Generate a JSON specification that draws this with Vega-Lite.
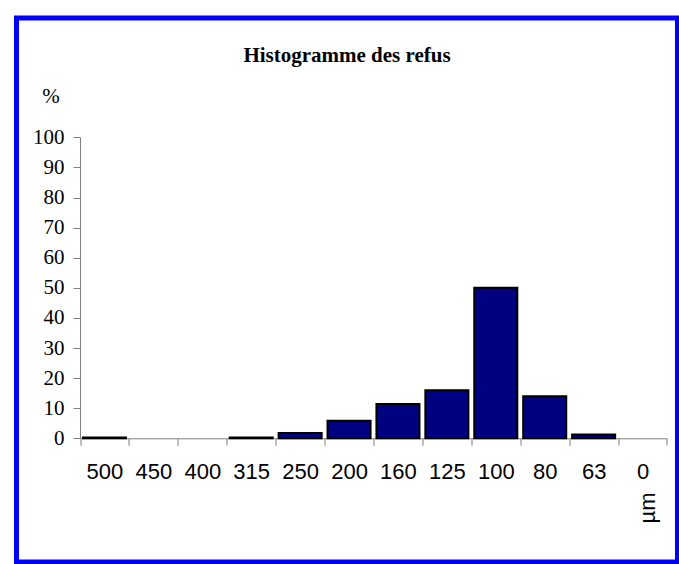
{
  "$schema": "https://vega.github.io/schema/vega-lite/v6.json",
  "width": 661,
  "height": 544,
  "autosize": {"type": "none"},
  "padding": {"left": 16.5, "top": 18, "right": 1.5, "bottom": 2},
  "background": "white",
  "title": {
    "text": "Histogramme des refus",
    "font": "Liberation Serif",
    "fontSize": 21,
    "fontWeight": "bold",
    "color": "black",
    "anchor": "middle",
    "frame": "group",
    "offset": -64.5,
    "baseline": "alphabetic"
  },
  "data": {
    "values": [
      {"taille": "500", "refus": 0.3},
      {"taille": "450", "refus": 0},
      {"taille": "400", "refus": 0},
      {"taille": "315", "refus": 0.3},
      {"taille": "250", "refus": 1.8},
      {"taille": "200", "refus": 5.8},
      {"taille": "160", "refus": 11.4},
      {"taille": "125", "refus": 16.0},
      {"taille": "100", "refus": 50.0},
      {"taille": "80", "refus": 14.0},
      {"taille": "63", "refus": 1.3},
      {"taille": "0", "refus": 0}
    ]
  },
  "transform": [{"filter": "datum.refus > 0"}],
  "mark": {
    "type": "bar",
    "fill": "#000080",
    "stroke": "black",
    "strokeWidth": 2,
    "width": {"band": 0.88}
  },
  "encoding": {
    "x": {
      "field": "taille",
      "type": "ordinal",
      "sort": null,
      "scale": {
        "domain": ["500", "450", "400", "315", "250", "200", "160", "125", "100", "80", "63", "0"],
        "range": [63.5, 650.5],
        "paddingInner": 0,
        "paddingOuter": 0
      },
      "axis": {
        "title": "µm",
        "titleAngle": 270,
        "titleX": 630.5,
        "titleY": 69.2,
        "titleAlign": "center",
        "titleBaseline": "middle",
        "titleFont": "Liberation Sans",
        "titleFontSize": 22,
        "titleFontWeight": "normal",
        "titleColor": "black",
        "labelAngle": 0,
        "labelFont": "Liberation Sans",
        "labelFontSize": 22,
        "labelColor": "black",
        "labelPadding": 16.6,
        "labelBaseline": "top",
        "tickSize": 7,
        "tickBand": "extent",
        "offset": -123.7,
        "domainColor": "#808080",
        "tickColor": "#808080",
        "grid": false
      }
    },
    "y": {
      "field": "refus",
      "type": "quantitative",
      "scale": {"domain": [0, 100], "range": [420.3, 119.3], "nice": false},
      "axis": {
        "title": "%",
        "titleAngle": 0,
        "titleX": -29.5,
        "titleY": 78.7,
        "titleAlign": "center",
        "titleBaseline": "middle",
        "titleFont": "Liberation Serif",
        "titleFontSize": 21,
        "titleFontWeight": "normal",
        "titleColor": "black",
        "values": [0, 10, 20, 30, 40, 50, 60, 70, 80, 90, 100],
        "labelFont": "Liberation Serif",
        "labelFontSize": 21,
        "labelColor": "black",
        "labelPadding": 9,
        "tickSize": 7,
        "offset": -63.5,
        "domainColor": "#808080",
        "tickColor": "#808080",
        "grid": false
      }
    }
  },
  "config": {
    "view": {"stroke": "#0000FF", "strokeWidth": 5}
  }
}
